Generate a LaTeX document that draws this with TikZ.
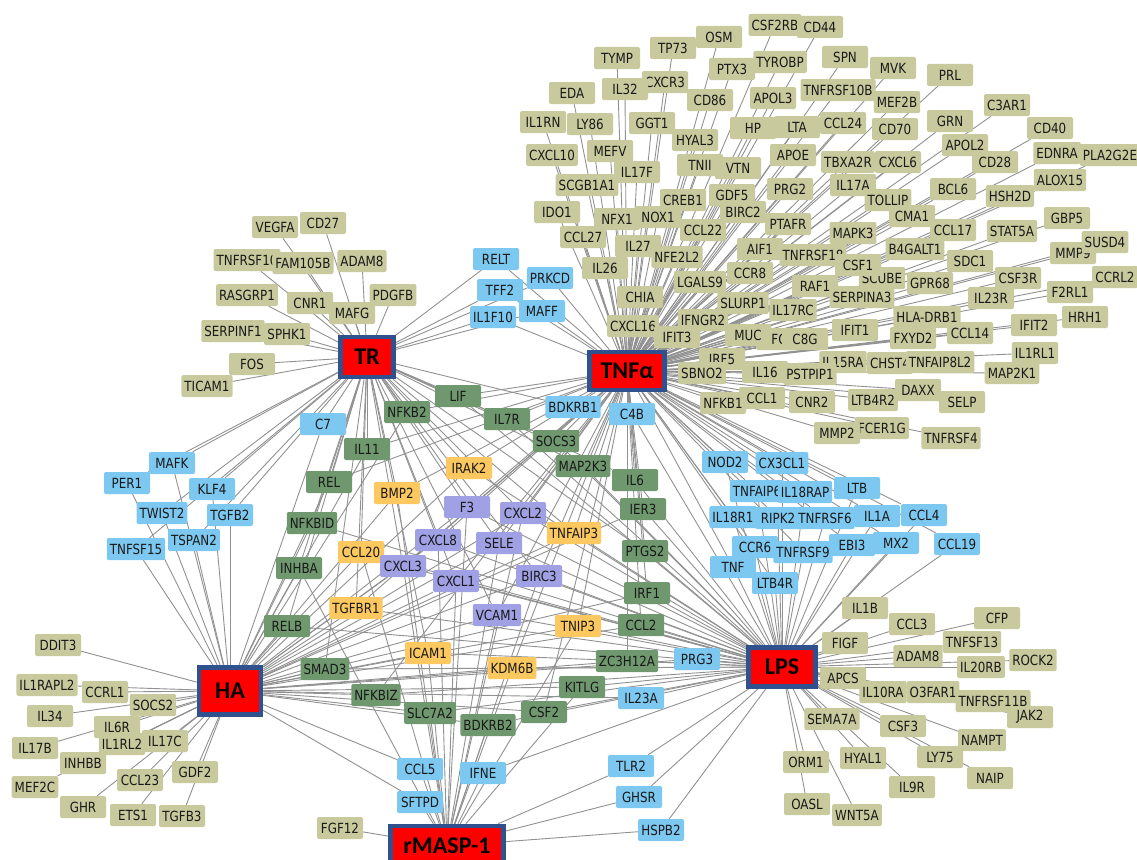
\documentclass[tikz,border=0pt]{standalone}
\usepackage{fontspec}
\setmainfont{DejaVu Sans}[FakeStretch=0.85]
\newfontfamily\hubfont{Carlito}
\definecolor{genekhaki}{RGB}{201,201,158}
\definecolor{genesky}{RGB}{125,200,240}
\definecolor{genesage}{RGB}{111,152,111}
\definecolor{geneamber}{RGB}{252,200,95}
\definecolor{genelilac}{RGB}{160,160,228}
\definecolor{hubred}{RGB}{255,0,0}
\definecolor{hubblue}{RGB}{47,82,143}
\definecolor{linkgray}{RGB}{145,145,145}
\pgfdeclarelayer{edges}
\pgfsetlayers{edges,main}
\tikzset{
  gene/.style={rectangle, rounded corners=2pt, minimum width=46pt, minimum height=22pt,
    inner xsep=3pt, inner ysep=2pt, text=black!90, font=\fontsize{14}{16}\selectfont},
  khakibox/.style={gene, fill=genekhaki},
  skybox/.style={gene, fill=genesky},
  sagebox/.style={gene, fill=genesage},
  amberbox/.style={gene, fill=geneamber},
  lilacbox/.style={gene, fill=genelilac},
  hubbox/.style={rectangle, fill=hubred, draw=hubblue, line width=4.5pt, text=black,
    font=\hubfont\bfseries\fontsize{24}{26}\selectfont},
  link/.style={draw=linkgray, line width=0.9pt}
}
\begin{document}
\begin{tikzpicture}[x=1pt,y=-1pt]
  \useasboundingbox (0,0) rectangle (1137,859);

  % the five stimuli
  \node[hubbox, minimum width=53pt, minimum height=40pt] (tr) at (367,357) {TR};
  \node[hubbox, minimum width=75pt, minimum height=38pt] (tnf) at (627,371) {TNFα};
  \node[hubbox, minimum width=67pt, minimum height=39pt] (lps) at (782,667) {LPS};
  \node[hubbox, minimum width=62pt, minimum height=47pt] (ha) at (230,691) {HA};
  \node[hubbox, minimum width=113pt, minimum height=40pt] (rmasp) at (447,846) {rMASP-1};

  % genes hit by TNFa only
  \foreach \n/\x/\y/\lbl in {
      csf2rb/775/25/CSF2RB, cd44/820/27/CD44, osm/719/37/OSM, tp73/673/48/TP73,
      tymp/617/58/TYMP, spn/845/57/SPN, tyrobp/780/62/TYROBP, mvk/893/68/MVK,
      ptx3/732/69/PTX3, prl/950/75/PRL, cxcr3/665/82/CXCR3, il32/625/89/IL32,
      tnfrsf10b/838/90/TNFRSF10B, eda/572/93/EDA, apol3/773/98/APOL3, cd86/710/100/CD86,
      mef2b/897/102/MEF2B, c3ar1/1007/105/C3AR1, grn/950/121/GRN, il1rn/543/122/IL1RN,
      ccl24/843/123/CCL24, ly86/590/124/LY86, ggt1/652/123/GGT1, lta/797/127/LTA,
      hp/753/128/HP, cd40/1050/128/CD40, cd70/895/129/CD70, hyal3/695/140/HYAL3,
      apol2/965/145/APOL2, mefv/610/151/MEFV, ednra/1057/153/EDNRA, cxcl10/552/155/CXCL10,
      apoe/793/155/APOE, pla2g2e/1110/155/PLA2G2E, tbxa2r/848/162/TBXA2R, cxcl6/898/162/CXCL6,
      cd28/995/162/CD28, tnii/700/165/TNII, vtn/738/168/VTN, il17f/637/172/IL17F,
      alox15/1060/180/ALOX15, il17a/853/185/IL17A, scgb1a1/587/185/SCGB1A1, bcl6/953/189/BCL6,
      prg2/790/189/PRG2, gdf5/732/195/GDF5, hsh2d/1010/196/HSH2D, creb1/683/200/CREB1,
      tollip/888/200/TOLLIP, ido1/557/212/IDO1, birc2/743/212/BIRC2, cma1/912/216/CMA1,
      nox1/658/217/NOX1, gbp5/1067/218/GBP5, nfx1/617/219/NFX1, ptafr/788/224/PTAFR,
      ccl22/703/230/CCL22, ccl17/953/230/CCL17, stat5a/1012/231/STAT5A, mapk3/853/233/MAPK3,
      ccl27/583/237/CCL27, il27/638/246/IL27, b4galt1/915/249/B4GALT1, aif1/760/249/AIF1,
      mmp9/1073/253/MMP9, susd4/1105/242/SUSD4, tnfrsf18/813/255/TNFRSF18, nfe2l2/677/257/NFE2L2,
      sdc1/970/261/SDC1, scube/882/278/SCUBE, csf1/858/265/CSF1, il26/605/268/IL26,
      ccr8/750/273/CCR8, ccrl2/1115/277/CCRL2, csf3r/1018/278/CSF3R, lgals9/700/282/LGALS9,
      gpr68/930/283/GPR68, raf1/815/286/RAF1, f2rl1/1070/292/F2RL1, chia/640/297/CHIA,
      serpina3/862/297/SERPINA3, il23r/991/298/IL23R, slurp1/743/303/SLURP1, il17rc/793/310/IL17RC,
      hladrb1/927/317/HLA-DRB1, hrh1/1085/317/HRH1, ifngr2/703/320/IFNGR2, ifit2/1034/325/IFIT2,
      cxcl16/633/326/CXCL16, ifit1/855/330/IFIT1, ccl14/970/333/CCL14, fc/779/339/FC,
      muc/748/335/MUC, ifit3/677/337/IFIT3, fxyd2/913/338/FXYD2, c8g/805/339/C8G,
      il1rl1/1035/353/IL1RL1, irf5/722/359/IRF5, il15ra/843/362/IL15RA, chst4/890/363/CHST4,
      tnfaip8l2/940/362/TNFAIP8L2, il16/765/372/IL16, sbno2/702/373/SBNO2, map2k1/1012/373/MAP2K1,
      pstpip1/810/374/PSTPIP1, daxx/918/390/DAXX, ccl1/762/398/CCL1, ltb4r2/873/400/LTB4R2,
      cnr2/812/402/CNR2, selp/962/402/SELP, nfkb1/723/403/NFKB1, fcer1g/882/428/FCER1G,
      mmp2/837/433/MMP2, tnfrsf4/951/438/TNFRSF4} {
    \node[khakibox] (\n) at (\x,\y) {\lbl};
    \begin{pgfonlayer}{edges}\draw[link] (tnf) -- (\n);\end{pgfonlayer}
  }

  % genes hit by TR only
  \foreach \n/\x/\y/\lbl in {
      vegfa/275/227/VEGFA, cd27/323/223/CD27, tnfrsf10/247/260/TNFRSF10,
      fam105b/303/263/FAM105B, adama/362/261/ADAM8, rasgrp1/247/295/RASGRP1,
      cnr1/310/303/CNR1, mafg/352/313/MAFG, pdgfb/393/295/PDGFB,
      serpinf1/233/331/SERPINF1, sphk1/287/334/SPHK1, fos/252/364/FOS,
      ticam1/207/386/TICAM1} {
    \node[khakibox] (\n) at (\x,\y) {\lbl};
    \begin{pgfonlayer}{edges}\draw[link] (tr) -- (\n);\end{pgfonlayer}
  }

  % genes hit by HA only
  \foreach \n/\x/\y/\lbl in {
      ddit3/58/645/DDIT3, il1rapl2/47/685/IL1RAPL2, ccrl1/105/692/CCRL1,
      socs2/153/705/SOCS2, il34/50/716/IL34, il6r/117/727/IL6R,
      il17b/35/748/IL17B, il1rl2/122/744/IL1RL2, il17c/165/741/IL17C,
      inhbb/83/763/INHBB, gdf2/195/772/GDF2, ccl23/140/780/CCL23,
      mef2c/35/787/MEF2C, ghr/83/807/GHR, ets1/133/815/ETS1, tgfb3/182/816/TGFB3} {
    \node[khakibox] (\n) at (\x,\y) {\lbl};
    \begin{pgfonlayer}{edges}\draw[link] (ha) -- (\n);\end{pgfonlayer}
  }

  % genes hit by LPS only
  \foreach \n/\x/\y/\lbl in {
      il1b/865/608/IL1B, ccl3/912/624/CCL3, cfp/997/618/CFP, figf/845/643/FIGF,
      tnfsf13/972/642/TNFSF13, adamb/918/656/ADAM8, rock2/1033/660/ROCK2,
      il20rb/981/667/IL20RB, apcs/843/678/APCS, il10ra/883/692/IL10RA,
      o3far1/933/692/O3FAR1, tnfrsf11b/993/701/TNFRSF11B, jak2/1030/717/JAK2,
      sema7a/832/719/SEMA7A, csf3/903/726/CSF3, nampt/982/740/NAMPT,
      orm1/806/762/ORM1, hyal1/863/758/HYAL1, ly75/940/757/LY75, naip/990/778/NAIP,
      il9r/912/787/IL9R, oasl/807/804/OASL, wnt5a/857/815/WNT5A} {
    \node[khakibox] (\n) at (\x,\y) {\lbl};
    \begin{pgfonlayer}{edges}\draw[link] (lps) -- (\n);\end{pgfonlayer}
  }

  % gene hit by rMASP-1 only
  \node[khakibox] (fgf12) at (340,828) {FGF12};
  \begin{pgfonlayer}{edges}\draw[link] (rmasp) -- (fgf12);\end{pgfonlayer}

  % genes hit by two stimuli
  \foreach \n/\x/\y/\lbl in {
      relt/496/259/RELT, prkcd/550/278/PRKCD, tff2/500/290/TFF2, maff/542/311/MAFF,
      il1f10/493/317/IL1F10, bdkrb1/573/407/BDKRB1, c4b/632/414/C4B, c7/323/424/C7,
      mafk/172/463/MAFK, per1/127/483/PER1, klf4/212/489/KLF4, twist2/162/513/TWIST2,
      tgfb2/230/515/TGFB2, tspan2/194/540/TSPAN2, tnfsf15/136/549/TNFSF15,
      nod2/725/462/NOD2, cx3cl1/782/463/CX3CL1, tnfaip6/757/491/TNFAIP6,
      il18rap/805/492/IL18RAP, ltb/857/488/LTB, il18r1/733/517/IL18R1,
      ripk2/778/518/RIPK2, tnfrsf6/825/518/TNFRSF6, il1a/877/516/IL1A, ccl4/924/515/CCL4,
      ccr6/755/547/CCR6, ebi3/852/545/EBI3, mx2/896/543/MX2, ccl19/957/544/CCL19,
      tnfrsf9/803/552/TNFRSF9, tnfgene/733/567/TNF, ltb4r/775/583/LTB4R,
      prg3/697/659/PRG3, il23a/641/698/IL23A, ccl5/420/769/CCL5, ifne/483/773/IFNE,
      tlr2/631/766/TLR2, sftpd/420/802/SFTPD, ghsr/639/797/GHSR, hspb2/661/830/HSPB2}
    \node[skybox] (\n) at (\x,\y) {\lbl};

  % genes hit by three stimuli
  \foreach \n/\x/\y/\lbl in {
      lif/458/396/LIF, nfkb2/407/412/NFKB2, il7r/507/419/IL7R, socs3/556/441/SOCS3,
      il11/367/449/IL11, map2k3/583/466/MAP2K3, il6/635/480/IL6, rel/329/482/REL,
      ier3/643/509/IER3, nfkbid/312/523/NFKBID, ptgs2/645/551/PTGS2, inhba/299/568/INHBA,
      irf1/647/593/IRF1, ccl2/641/625/CCL2, relb/287/626/RELB, zc3h12a/627/661/ZC3H12A,
      smad3/325/669/SMAD3, kitlg/582/687/KITLG, nfkbiz/376/695/NFKBIZ, csf2/544/712/CSF2,
      slc7a2/430/713/SLC7A2, bdkrb2/488/725/BDKRB2}
    \node[sagebox] (\n) at (\x,\y) {\lbl};

  % genes hit by four stimuli
  \foreach \n/\x/\y/\lbl in {
      irak2/469/468/IRAK2, bmp2/397/493/BMP2, tnfaip3/574/533/TNFAIP3, ccl20/361/552/CCL20,
      tgfbr1/356/608/TGFBR1, tnip3/578/626/TNIP3, icam1/428/653/ICAM1, kdm6b/512/668/KDM6B}
    \node[amberbox] (\n) at (\x,\y) {\lbl};

  % genes hit by all five
  \foreach \n/\x/\y/\lbl in {
      f3/467/507/F3, cxcl2/523/513/CXCL2, cxcl8/438/540/CXCL8, sele/499/543/SELE,
      cxcl3/403/566/CXCL3, cxcl1/456/581/CXCL1, birc3/539/576/BIRC3, vcam1/497/615/VCAM1}
    \node[lilacbox] (\n) at (\x,\y) {\lbl};

  % links of the shared genes
  \begin{pgfonlayer}{edges}
    \foreach \n in {relt,prkcd,tff2,maff,il1f10,bdkrb1,c7,mafk,per1,klf4,twist2,tgfb2,
        tspan2,tnfsf15,lif,nfkb2,il7r,socs3,map2k3,il11,rel,nfkbid,inhba,relb,il6,ptgs2,
        smad3,irak2,bmp2,ccl20,tgfbr1,tnfaip3,icam1,f3,cxcl2,cxcl8,sele,cxcl3,cxcl1,birc3,vcam1}
      \draw[link] (tr) -- (\n);
    \foreach \n in {relt,prkcd,tff2,maff,il1f10,bdkrb1,c4b,nod2,cx3cl1,tnfaip6,il18rap,ltb,
        il18r1,ripk2,tnfrsf6,il1a,ccl4,ccr6,ebi3,mx2,ccl19,tnfrsf9,tnfgene,ltb4r,lif,nfkb2,
        il7r,socs3,map2k3,il11,rel,il6,ier3,ptgs2,irf1,ccl2,zc3h12a,csf2,nfkbiz,irak2,bmp2,
        tgfbr1,tnfaip3,tnip3,kdm6b,f3,cxcl2,cxcl8,sele,cxcl3,cxcl1,birc3,vcam1}
      \draw[link] (tnf) -- (\n);
    \foreach \n in {c4b,nod2,cx3cl1,tnfaip6,il18rap,ltb,il18r1,ripk2,tnfrsf6,il1a,ccl4,ccr6,
        ebi3,mx2,ccl19,tnfrsf9,tnfgene,ltb4r,prg3,il23a,ifne,tlr2,ghsr,hspb2,lif,il7r,socs3,
        map2k3,nfkbid,relb,il6,ier3,ptgs2,irf1,ccl2,zc3h12a,smad3,kitlg,nfkbiz,csf2,slc7a2,
        bdkrb2,irak2,ccl20,tgfbr1,tnfaip3,tnip3,icam1,kdm6b,f3,cxcl2,cxcl8,sele,cxcl3,cxcl1,
        birc3,vcam1}
      \draw[link] (lps) -- (\n);
    \foreach \n in {c7,mafk,per1,klf4,twist2,tgfb2,tspan2,tnfsf15,prg3,il23a,ccl5,sftpd,
        nfkb2,il11,rel,nfkbid,inhba,relb,ier3,irf1,ccl2,zc3h12a,smad3,kitlg,nfkbiz,csf2,
        slc7a2,bdkrb2,irak2,bmp2,ccl20,tgfbr1,tnfaip3,tnip3,icam1,kdm6b,f3,cxcl2,cxcl8,sele,
        cxcl3,cxcl1,birc3,vcam1}
      \draw[link] (ha) -- (\n);
    \foreach \n in {ccl5,ifne,sftpd,tlr2,ghsr,hspb2,inhba,kitlg,slc7a2,bdkrb2,bmp2,ccl20,
        tnip3,icam1,kdm6b,f3,cxcl2,cxcl8,sele,cxcl3,cxcl1,birc3,vcam1}
      \draw[link] (rmasp) -- (\n);
  \end{pgfonlayer}
\end{tikzpicture}
\end{document}
